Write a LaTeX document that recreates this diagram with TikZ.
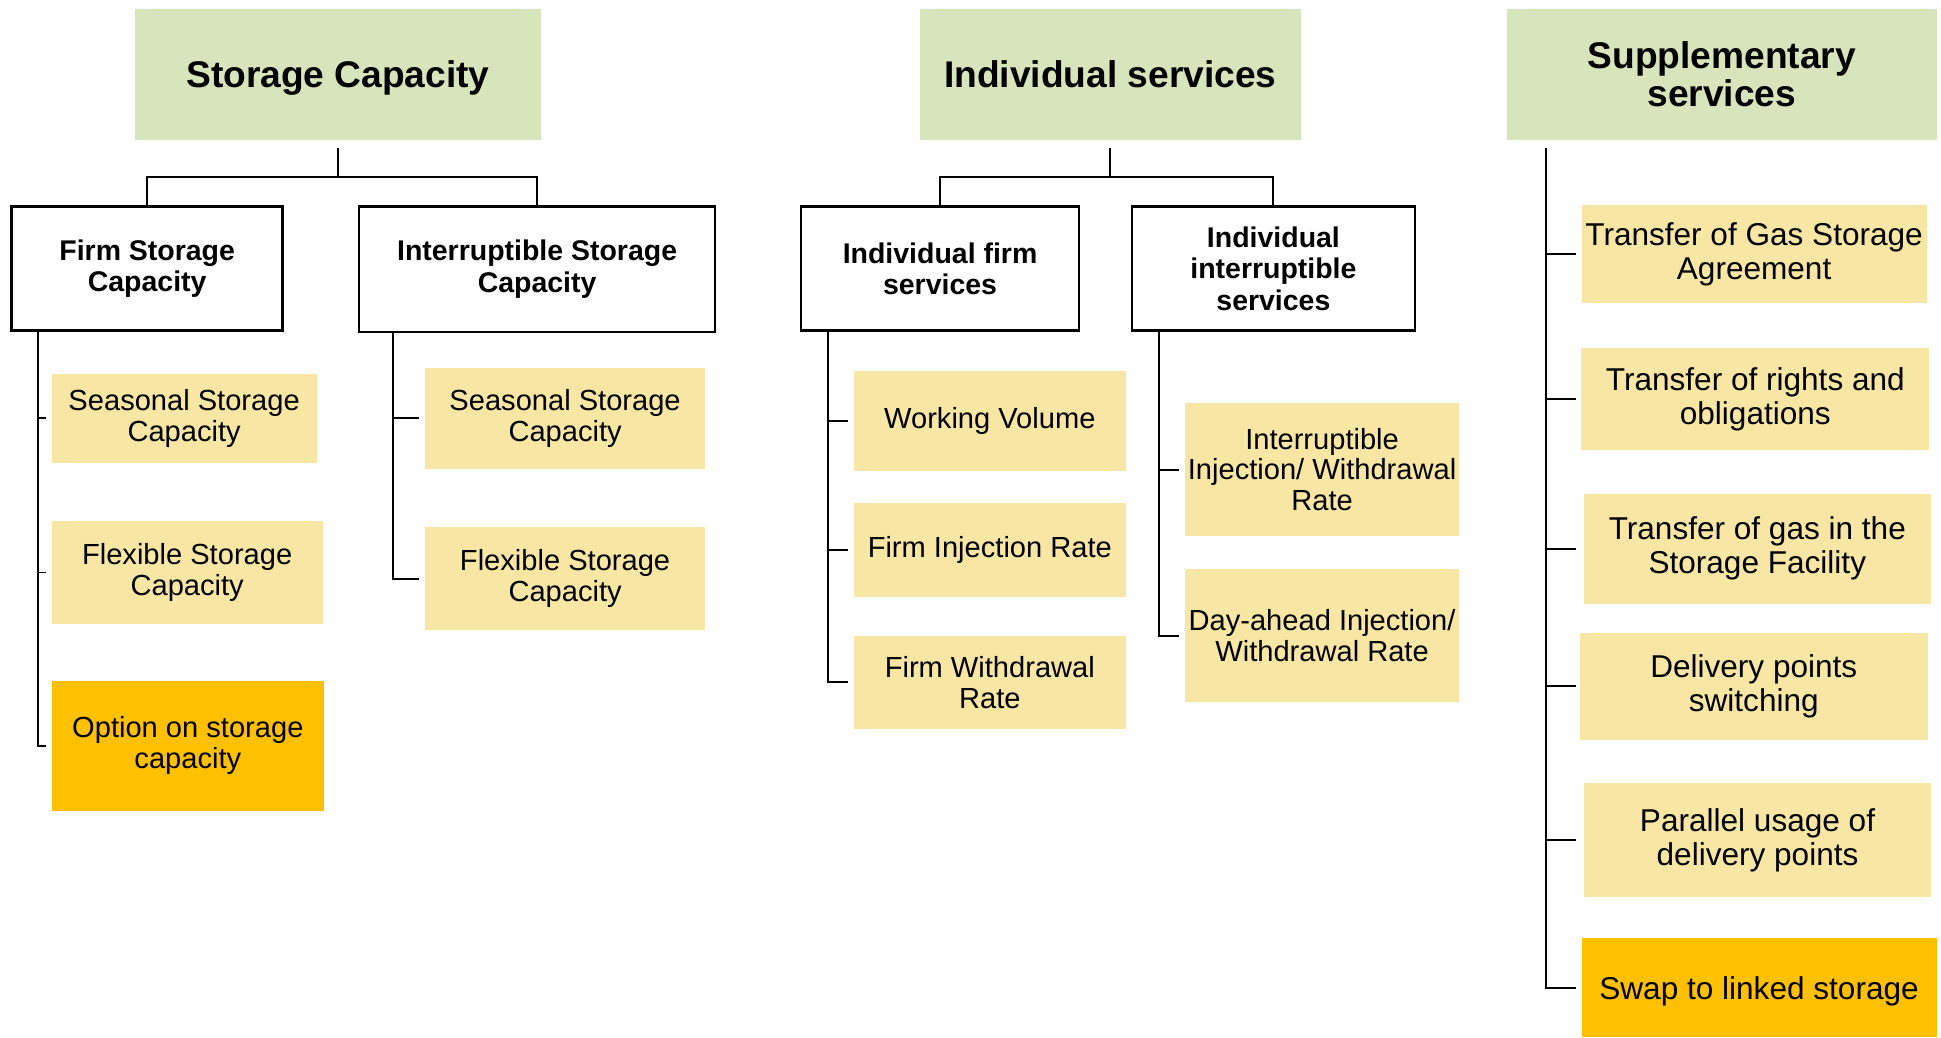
\documentclass[tikz,border=0pt]{standalone}
\usepackage{fontspec}
\setmainfont{Liberation Sans}
\definecolor{titlegreen}{HTML}{D8E4BC}
\definecolor{lightyel}{HTML}{F8E6A5}
\definecolor{optorange}{HTML}{FFC000}
\tikzset{
  titlebox/.style={fill=titlegreen, inner sep=0pt, align=center, font=\fontsize{30}{30}\selectfont\bfseries},
  wbox/.style={draw=black, line width=2pt, fill=white, inner sep=0pt, align=center, font=\fontsize{23}{25.5}\selectfont\bfseries},
  ybox/.style={fill=lightyel, inner sep=0pt, align=center, font=\fontsize{23.5}{25}\selectfont},
  obox/.style={ybox, fill=optorange},
  sbox/.style={ybox, font=\fontsize{25.5}{27.5}\selectfont},
  oboxs/.style={sbox, fill=optorange},
  conn/.style={line width=1.5pt, draw=black}
}
\begin{document}
\begin{tikzpicture}[x=1pt,y=-1pt]
\useasboundingbox (0,0) rectangle (1568,838.5);

% top level
\node[titlebox, minimum width=328pt, minimum height=106pt, text depth=0pt] (SC) at (273,60) {Storage Capacity};
\node[titlebox, minimum width=308pt, minimum height=106pt] (IS) at (897,60) {Individual services};
\node[titlebox, minimum width=348pt, minimum height=106pt] (SS) at (1391,60) {Supplementary\\services};

% second level
\node[wbox, minimum width=219pt, minimum height=100pt] (firm) at (118.9,217) {Firm Storage\\Capacity};
\node[wbox, minimum width=287.7pt, minimum height=101pt] (intr) at (433.9,217.5) {Interruptible Storage\\Capacity};
\node[wbox, minimum width=224.8pt, minimum height=100pt] (indf) at (759.4,217) {Individual firm\\services};
\node[wbox, minimum width=228.7pt, minimum height=100pt] (indi) at (1028.7,217) {Individual\\interruptible\\services};

% firm storage children
\node[ybox, minimum width=214.1pt, minimum height=72pt] (fs1) at (148.75,338) {Seasonal Storage\\Capacity};
\node[ybox, minimum width=219pt, minimum height=83pt] (fs2) at (151.2,462.5) {Flexible Storage\\Capacity};
\node[obox, minimum width=220.1pt, minimum height=105pt] (fs3) at (151.75,602.5) {Option on storage\\capacity};

% interruptible storage children
\node[ybox, minimum width=226.2pt, minimum height=82pt] (is1) at (456.5,338) {Seasonal Storage\\Capacity};
\node[ybox, minimum width=226.2pt, minimum height=83pt] (is2) at (456.5,467.5) {Flexible Storage\\Capacity};

% individual firm children
\node[ybox, minimum width=220pt, minimum height=81pt] (if1) at (799.6,339.85) {Working Volume};
\node[ybox, minimum width=220pt, minimum height=76.3pt] (if2) at (799.6,444.45) {Firm Injection Rate};
\node[ybox, minimum width=220pt, minimum height=75pt] (if3) at (799.6,551.1) {Firm Withdrawal\\Rate};

% individual interruptible children
\node[ybox, minimum width=220.8pt, minimum height=107.3pt] (ii1) at (1068,379.35) {Interruptible\\Injection/ Withdrawal\\Rate};
\node[ybox, minimum width=220.8pt, minimum height=107pt] (ii2) at (1068,513.5) {Day-ahead Injection/\\Withdrawal Rate};

% supplementary children
\node[sbox, minimum width=278.8pt, minimum height=78.6pt] (s1) at (1417,205.1) {Transfer of Gas Storage\\Agreement};
\node[sbox, minimum width=280.9pt, minimum height=81.8pt] (s2) at (1418,322.3) {Transfer of rights and\\obligations};
\node[sbox, minimum width=280.6pt, minimum height=88.9pt] (s3) at (1419.6,443.25) {Transfer of gas in the\\Storage Facility};
\node[sbox, minimum width=280.9pt, minimum height=86.6pt] (s4) at (1416.75,554.3) {Delivery points\\switching};
\node[sbox, minimum width=280.6pt, minimum height=92.1pt] (s5) at (1419.8,678.75) {Parallel usage of\\delivery points};
\node[oboxs, minimum width=286.8pt, minimum height=80.4pt, text depth=0pt] (s6) at (1421,797.8) {Swap to linked storage};

% connectors top level -> second level
\coordinate (scb) at ([yshift=-6pt]SC.south);
\draw[conn] (scb) -- ++(0,24) coordinate (scj) -| (firm.north);
\draw[conn] (scj) -| (intr.north);
\coordinate (isb) at ([yshift=-6pt]IS.south);
\draw[conn] (isb) -- ++(0,24) coordinate (isj) -| (indf.north);
\draw[conn] (isj) -| (indi.north);

% firm storage trunk
\coordinate (t1) at ([xshift=22.6pt]firm.south west);
\draw[conn] (t1) |- ([xshift=-4pt]fs3.west);
\draw[conn] ([xshift=-4pt]fs1.west) -- (t1 |- fs1.west);
\draw[conn] ([xshift=-4pt]fs2.west) -- (t1 |- fs2.west);

% interruptible storage trunk
\coordinate (t2) at ([xshift=28.6pt]intr.south west);
\draw[conn] (t2) |- ([xshift=-4.6pt]is2.west);
\draw[conn] ([xshift=-4.6pt]is1.west) -- (t2 |- is1.west);

% individual firm trunk
\coordinate (t3) at ([xshift=22.8pt]indf.south west);
\draw[conn] (t3) |- ([xshift=-4.7pt]if3.west);
\draw[conn] ([xshift=-4.7pt]if1.west) -- (t3 |- if1.west);
\draw[conn] ([xshift=-4.7pt]if2.west) -- (t3 |- if2.west);

% individual interruptible trunk
\coordinate (t4) at ([xshift=23.1pt]indi.south west);
\draw[conn] (t4) |- ([xshift=-4.6pt]ii2.west);
\draw[conn] ([xshift=-4.6pt]ii1.west) -- (t4 |- ii1.west);

% supplementary trunk
\coordinate (t5) at ([xshift=32.4pt,yshift=-6pt]SS.south west);
\draw[conn] (t5) |- ([xshift=-4pt]s6.west);
\draw[conn] ([xshift=-4pt]s1.west) -- (t5 |- s1.west);
\draw[conn] ([xshift=-4pt]s2.west) -- (t5 |- s2.west);
\draw[conn] ([xshift=-5.7pt]s3.west) -- (t5 |- s3.west);
\draw[conn] ([xshift=-2.7pt]s4.west) -- (t5 |- s4.west);
\draw[conn] ([xshift=-5.9pt]s5.west) -- (t5 |- s5.west);
\end{tikzpicture}
\end{document}
